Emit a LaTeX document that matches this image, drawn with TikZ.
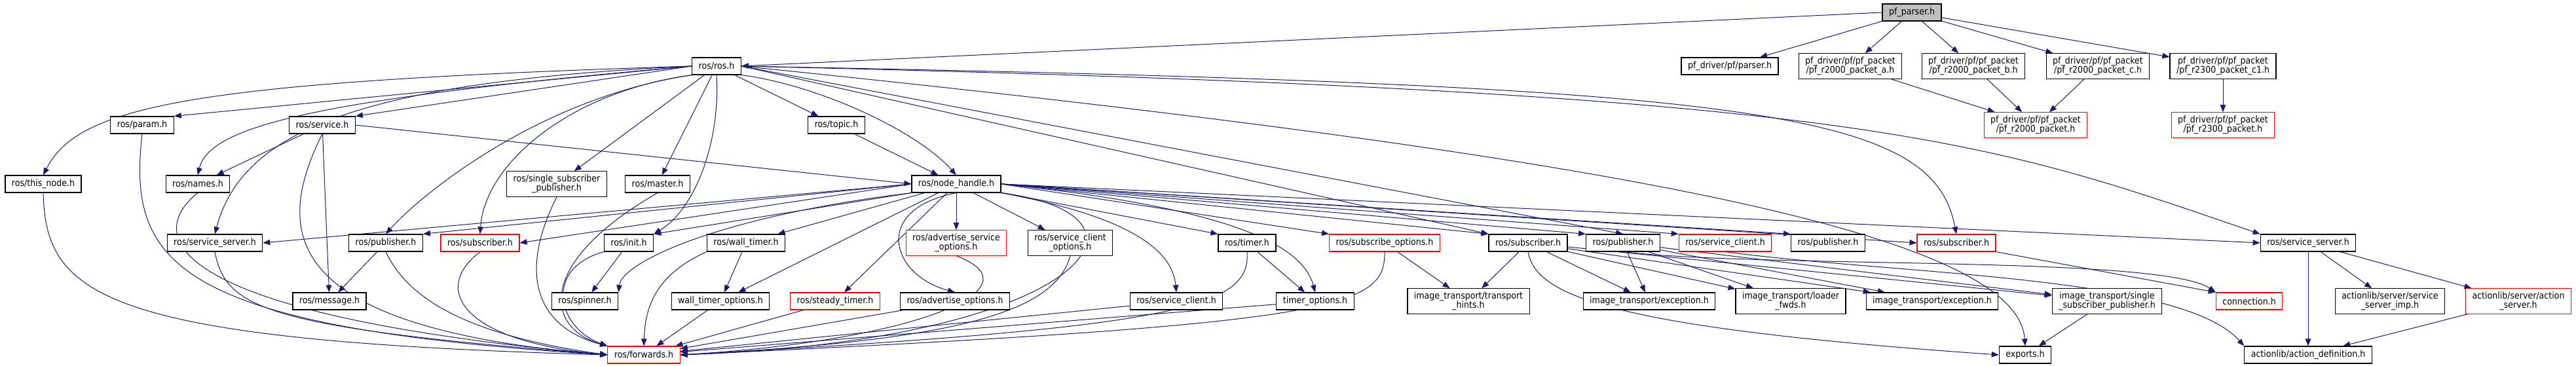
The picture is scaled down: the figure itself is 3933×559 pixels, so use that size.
\documentclass[tikz,border=0pt]{standalone}
\usepackage{fontspec}
\setmainfont{DejaVu Sans}[FakeStretch=0.9]
\usepackage{tikz}
\usetikzlibrary{arrows.meta,backgrounds}
\usepackage{xcolor}
\definecolor{edgeblue}{RGB}{25,25,112}
\definecolor{boxred}{RGB}{255,0,0}
\definecolor{rootgrey}{RGB}{191,191,191}

\begin{document}
\begin{tikzpicture}[x=1pt, y=-1pt,
    box/.style={rectangle, draw=black, line width=1.2pt, fill=white,
        minimum height=26pt, inner xsep=10pt, inner ysep=5pt, align=center,
        font=\fontsize{14}{14.5}\selectfont},
    redbox/.style={box, draw=boxred},
    arr/.style={-{Triangle[length=11pt,width=8.5pt]}, line width=1pt, edgeblue}
]
    \useasboundingbox (0,0) rectangle (3933,559);

    % top rows
    \node[box, fill=rootgrey] (pfparser) at (2919,19) {pf\_parser.h};
    \node[box] (ros) at (1094,101) {ros/ros.h};
    \node[box] (pfpars) at (2641,101) {pf\_driver/pf/parser.h};
    \node[box] (pka) at (2825,101) {pf\_driver/pf/pf\_packet\\/pf\_r2000\_packet\_a.h};
    \node[box] (pkb) at (3013,101) {pf\_driver/pf/pf\_packet\\/pf\_r2000\_packet\_b.h};
    \node[box] (pkc) at (3203,101) {pf\_driver/pf/pf\_packet\\/pf\_r2000\_packet\_c.h};
    \node[box] (pkc1) at (3394,101) {pf\_driver/pf/pf\_packet\\/pf\_r2300\_packet\_c1.h};

    \node[box] (param) at (217,191) {ros/param.h};
    \node[box] (service) at (492,191) {ros/service.h};
    \node[box] (topic) at (1277,191) {ros/topic.h};
    \node[redbox] (pk2000) at (3108,191) {pf\_driver/pf/pf\_packet\\/pf\_r2000\_packet.h};
    \node[redbox] (pk2300) at (3394,191) {pf\_driver/pf/pf\_packet\\/pf\_r2300\_packet.h};

    \node[box] (thisnode) at (66,281) {ros/this\_node.h};
    \node[box] (names) at (302,281) {ros/names.h};
    \node[box] (ssp) at (850,281) {ros/single\_subscriber\\\_publisher.h};
    \node[box] (master) at (1004,281) {ros/master.h};
    \node[box] (nh) at (1460,281) {ros/node\_handle.h};

    % middle row
    \node[box] (srvsrvL) at (328,371) {ros/service\_server.h};
    \node[box] (pubL) at (589,371) {ros/publisher.h};
    \node[redbox] (subL) at (733,371) {ros/subscriber.h};
    \node[box] (init) at (960,371) {ros/init.h};
    \node[box] (walltimer) at (1139,371) {ros/wall\_timer.h};
    \node[redbox] (advsrvopt) at (1460,371) {ros/advertise\_service\\\_options.h};
    \node[box] (srvcliopt) at (1634,371) {ros/service\_client\\\_options.h};
    \node[box] (timer) at (1904,371) {ros/timer.h};
    \node[redbox] (subopt) at (2114,371) {ros/subscribe\_options.h};
    \node[box] (subM) at (2333,371) {ros/subscriber.h};
    \node[box] (pubM) at (2478,371) {ros/publisher.h};
    \node[redbox] (srvcliR) at (2634,371) {ros/service\_client.h};
    \node[box] (pubR) at (2791,371) {ros/publisher.h};
    \node[redbox] (subR) at (2987,371) {ros/subscriber.h};
    \node[box] (srvsrvR) at (3524,371) {ros/service\_server.h};

    % lower rows
    \node[box] (message) at (503,460) {ros/message.h};
    \node[box] (spinner) at (893,460) {ros/spinner.h};
    \node[box] (wtopt) at (1100,460) {wall\_timer\_options.h};
    \node[redbox] (steady) at (1275,460) {ros/steady\_timer.h};
    \node[box] (advopt) at (1458,460) {ros/advertise\_options.h};
    \node[box] (srvcli) at (1796,460) {ros/service\_client.h};
    \node[box] (timeropt) at (2008,460) {timer\_options.h};
    \node[box] (hints) at (2242,460) {image\_transport/transport\\\_hints.h};
    \node[box] (exc1) at (2518,460) {image\_transport/exception.h};
    \node[box] (loader) at (2734,460) {image\_transport/loader\\\_fwds.h};
    \node[box] (exc2) at (2950,460) {image\_transport/exception.h};
    \node[box] (issp) at (3217,460) {image\_transport/single\\\_subscriber\_publisher.h};
    \node[redbox] (connection) at (3434,460) {connection.h};
    \node[box] (ssimp) at (3649,460) {actionlib/server/service\\\_server\_imp.h};
    \node[redbox] (actsrv) at (3845,460) {actionlib/server/action\\\_server.h};

    \node[redbox] (forwards) at (983,542) {ros/forwards.h};
    \node[box] (exports) at (3092,542) {exports.h};
    \node[box] (actdef) at (3524,542) {actionlib/action\_definition.h};

    \begin{scope}[on background layer]
    % pf_parser.h and packets
    \draw[arr] (pfparser.west) -- (ros.east);
    \foreach \t in {pfpars,pka,pkb,pkc,pkc1}
        \draw[arr] (pfparser) -- (\t);
    \foreach \s in {pka,pkb,pkc}
        \draw[arr] (\s) -- (pk2000);
    \draw[arr] (pkc1) -- (pk2300);

    % ros/ros.h
    \draw[arr] (ros.west) .. controls (300,125) and (120,160) .. (thisnode.north);
    \draw[arr] (ros.west) -- (param.north east);
    \draw[arr] (ros.west) .. controls (500,150) and (320,190) .. (names.north);
    \draw[arr] (ros.west) -- (service.north east);
    \draw[arr] (ros.west) .. controls (550,125) and (370,200) .. (srvsrvL.north);
    \draw[arr] (ros.south west) .. controls (820,150) and (640,300) .. (pubL.north);
    \draw[arr] (ros.south west) .. controls (870,140) and (740,250) .. (subL.north);
    \draw[arr] (ros) -- (ssp);
    \draw[arr] (ros) -- (master);
    \draw[arr] (ros.south) .. controls (1100,220) and (1060,320) .. (init.north east);
    \draw[arr] (ros) -- (topic);
    \draw[arr] (ros.south east) .. controls (1250,130) and (1400,200) .. (nh.north);
    \draw[arr] (ros.east) .. controls (2700,130) and (2950,170) .. (subR.north);
    \draw[arr] (ros.east) .. controls (2850,140) and (3020,210) .. (srvsrvR.north west);
    \draw[arr] (ros.east) .. controls (2500,240) and (3080,360) .. (exports.north);
    \draw[arr] (ros.east) -- (pubM.north);
    \draw[arr] (ros.east) -- (subM.north west);
    \draw[arr] (topic) -- (nh);

    % ros/service.h
    \draw[arr] (service) -- (names);
    \draw[arr] (service) -- (message);
    \draw[arr] (service.east) -- (nh.west);

    % ros/node_handle.h
    \draw[arr] (nh.west) -- (srvsrvL.east);
    \draw[arr] (nh.west) -- (pubL.north east);
    \draw[arr] (nh.west) -- (subL.east);
    \draw[arr] (nh.south west) -- (init.north east);
    \draw[arr] (nh.south west) .. controls (1100,330) and (950,400) .. (spinner.north east);
    \foreach \t in {walltimer,wtopt,steady,advsrvopt,srvcliopt}
        \draw[arr] (nh) -- (\t);
    \draw[arr] (nh.south) .. controls (1330,320) and (1360,420) .. (advopt.north);
    \draw[arr] (nh.south east) .. controls (1720,330) and (1790,380) .. (srvcli.north);
    \draw[arr] (nh) -- (timer.north west);
    \draw[arr] (nh.east) .. controls (1900,320) and (1990,380) .. (timeropt.north);
    \foreach \t in {subopt,subM,pubM,srvcliR,pubR}
        \draw[arr] (nh.east) -- (\t.north west);
    \draw[arr] (nh.east) -- (subR.west);
    \draw[arr] (nh.east) -- (srvsrvR.west);
    \draw[arr] (nh.south east) .. controls (1800,330) and (1650,520) .. (forwards.east);

    % into ros/forwards.h
    \draw[arr] (thisnode.south) .. controls (70,450) and (150,520) .. (forwards.west);
    \draw[arr] (param.south) .. controls (195,400) and (260,500) .. (forwards.west);
    \draw[arr] (names.south) .. controls (220,360) and (250,480) .. (forwards.west);
    \draw[arr] (service.south) .. controls (420,350) and (420,500) .. (forwards.west);
    \draw[arr] (srvsrvL.south) .. controls (345,470) and (400,500) .. (forwards.west);
    \draw[arr] (pubL) -- (message);
    \draw[arr] (pubL.south) .. controls (620,450) and (700,510) .. (forwards.west);
    \draw[arr] (subL.south) .. controls (660,440) and (700,520) .. (forwards.west);
    \draw[arr] (ssp.south) .. controls (790,420) and (820,500) .. (forwards.north west);
    \draw[arr] (master.south) .. controls (820,400) and (830,500) .. (forwards.north west);
    \draw[arr] (init) -- (spinner);
    \draw[arr] (init.south west) .. controls (830,410) and (850,500) .. (forwards.north west);
    \draw[arr] (walltimer) -- (wtopt);
    \draw[arr] (walltimer.south west) .. controls (1000,420) and (985,470) .. (forwards.north);
    \foreach \s in {wtopt,steady,advopt,srvcli,timeropt}
        \draw[arr] (\s) -- (forwards);
    \draw[arr] (advsrvopt.south) .. controls (1590,440) and (1400,520) .. (forwards.east);
    \draw[arr] (srvcliopt.south) .. controls (1610,480) and (1450,520) .. (forwards.east);
    \draw[arr] (timer) -- (timeropt);
    \draw[arr] (timer.south) .. controls (1910,470) and (1800,500) .. (forwards.east);
    \draw[arr] (subopt) -- (hints);
    \draw[arr] (subopt.south) .. controls (2115,470) and (2050,495) .. (forwards.east);

    % image_transport and actionlib
    \foreach \t in {hints,exc1,loader,exc2,issp}
        \draw[arr] (subM) -- (\t);
    \draw[arr] (subM.south) .. controls (2345,450) and (2450,500) .. (exports.west);
    \foreach \t in {exc1,loader,exc2,issp}
        \draw[arr] (pubM) -- (\t);
    \draw[arr] (pubM.south) .. controls (2700,410) and (3300,390) .. (connection.north west);
    \draw[arr] (subR.south east) -- (connection.north west);
    \draw[arr] (srvcliR.south) .. controls (2900,420) and (3330,420) .. (actdef.north west);
    \draw[arr] (issp) -- (exports);
    \foreach \t in {actdef,ssimp,actsrv}
        \draw[arr] (srvsrvR) -- (\t);
    \draw[arr] (actsrv) -- (actdef);
    \end{scope}
\end{tikzpicture}
\end{document}
